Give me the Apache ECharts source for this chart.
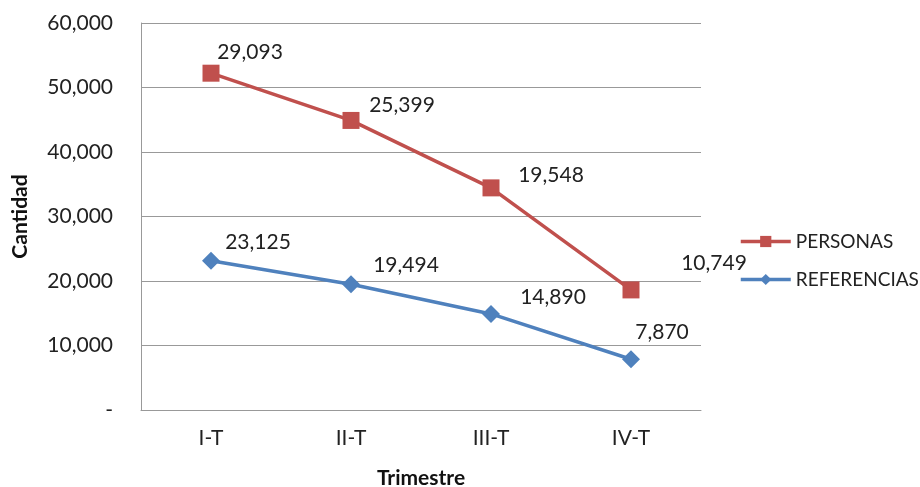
<!DOCTYPE html>
<html>
<head>
<meta charset="utf-8">
<script src="https://cdn.jsdelivr.net/npm/echarts@6/dist/echarts.min.js"></script>
<style>html,body{margin:0;padding:0;background:#fff}#c{width:920px;height:487px}</style>
</head>
<body>
<div id="c"></div>
<script>
const categories = ['I-T', 'II-T', 'III-T', 'IV-T'];
const referencias = [23125, 19494, 14890, 7870];
const personas = [29093, 25399, 19548, 10749];
const yTicks = [0, 10000, 20000, 30000, 40000, 50000, 60000];

const FONT = 'Lato';
const FS = 21;
const fmt = v => v === 0 ? '-' : v.toLocaleString('en-US');

// label offsets (style only)
const refOffsets = [[47, 7], [55, 6], [62, 9], [31, -2]];
const perOffsets = [[39, 4], [51, 10], [60, 12], [83, -2]];

function mkData(vals, offs) {
  return vals.map((v, i) => ({ value: v, label: { offset: offs[i] } }));
}

const chart = echarts.init(document.getElementById('c'));
chart.setOption({
  animation: false,
  textStyle: { fontFamily: FONT },
  grid: { left: 141, right: 219, top: 23, bottom: 77, containLabel: false, outerBoundsMode: 'none' },
  legend: {
    orient: 'vertical',
    left: 734,
    top: 227,
    itemGap: 19,
    itemWidth: 50,
    itemHeight: 14,
    data: ['PERSONAS', 'REFERENCIAS'],
    lineStyle: { width: 3.5 },
    textStyle: { fontFamily: FONT, fontSize: 19, color: '#222' }
  },
  xAxis: {
    type: 'category',
    data: categories,
    boundaryGap: true,
    name: 'Trimestre',
    nameLocation: 'middle',
    nameGap: 58,
    nameTextStyle: { fontFamily: FONT, fontSize: FS, fontWeight: 'bold', color: '#111' },
    axisLine: { lineStyle: { color: '#999', width: 1 } },
    axisTick: { show: false },
    axisLabel: { fontFamily: FONT, fontSize: FS, color: '#222', margin: 18 }
  },
  yAxis: {
    type: 'value',
    min: yTicks[0],
    max: yTicks[yTicks.length - 1],
    interval: 10000,
    name: 'Cantidad',
    nameLocation: 'middle',
    nameGap: 110,
    nameRotate: 90,
    nameTextStyle: { fontFamily: FONT, fontSize: FS, fontWeight: 'bold', color: '#111' },
    axisLine: { show: true, lineStyle: { color: '#999', width: 1 } },
    axisTick: { show: false },
    splitLine: { lineStyle: { color: '#999', width: 1 } },
    axisLabel: { fontFamily: FONT, fontSize: FS, color: '#222', margin: 28, formatter: fmt }
  },
  series: [
    {
      name: 'REFERENCIAS',
      type: 'line',
      stack: 'total',
      data: mkData(referencias, refOffsets),
      symbol: 'diamond',
      symbolSize: 18,
      lineStyle: { color: '#4F81BD', width: 3.5 },
      itemStyle: { color: '#4F81BD' },
      label: {
        show: true, position: 'top', distance: 6,
        fontFamily: FONT, fontSize: FS, color: '#222',
        formatter: p => fmt(p.value)
      }
    },
    {
      name: 'PERSONAS',
      type: 'line',
      stack: 'total',
      data: mkData(personas, perOffsets),
      symbol: 'rect',
      symbolSize: 17,
      lineStyle: { color: '#C0504D', width: 3.5 },
      itemStyle: { color: '#C0504D' },
      label: {
        show: true, position: 'top', distance: 6,
        fontFamily: FONT, fontSize: FS, color: '#222',
        formatter: p => fmt(p.value)
      }
    }
  ]
});
</script>
</body>
</html>
